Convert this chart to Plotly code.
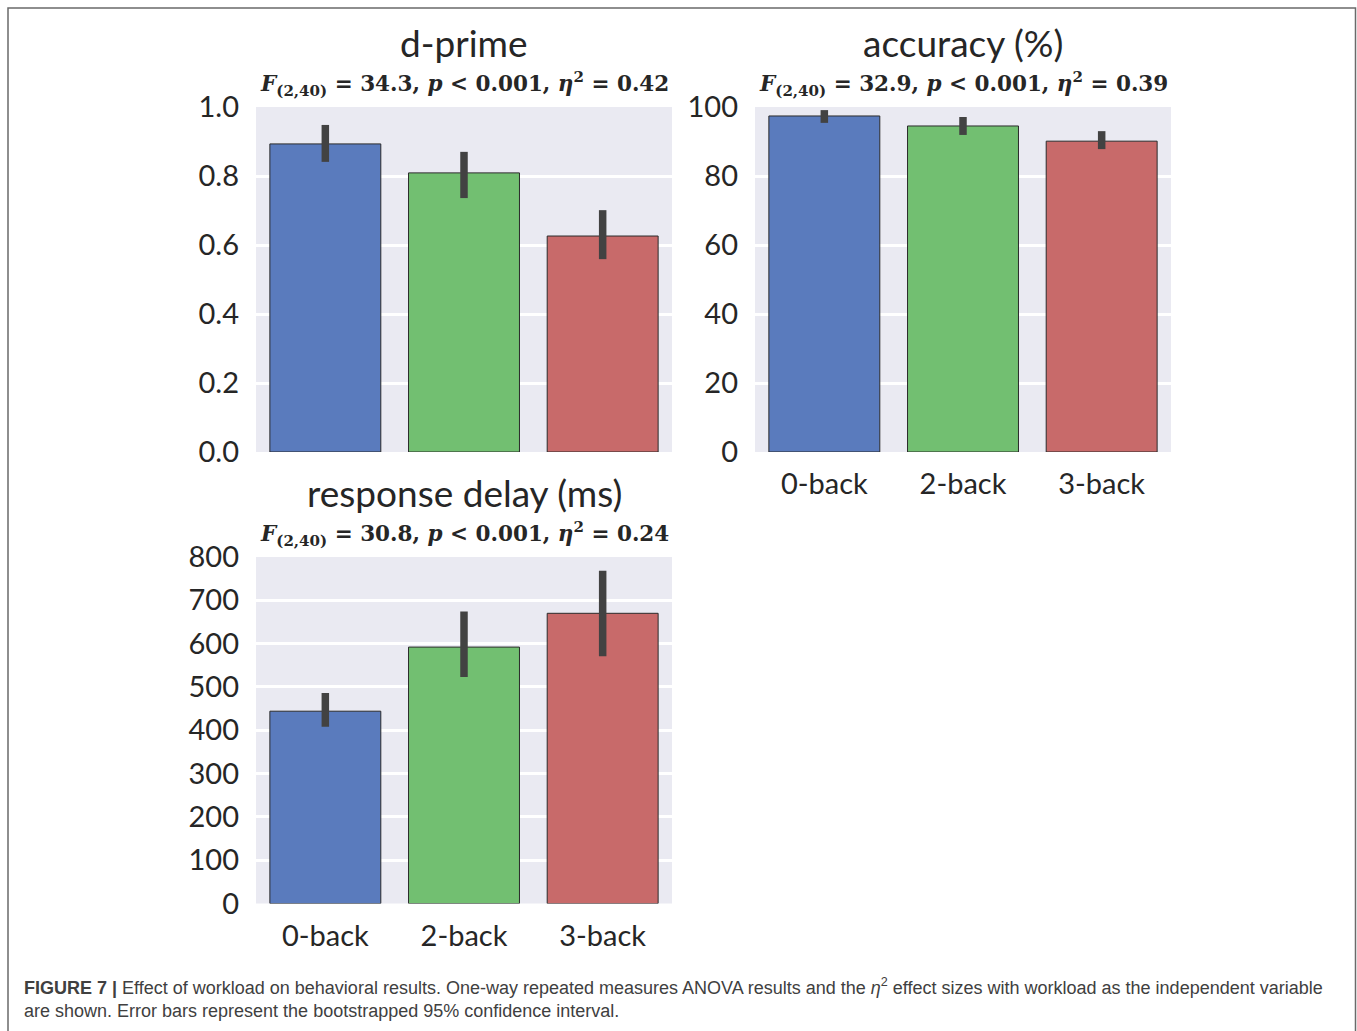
import plotly.graph_objects as go

# Workload conditions
conditions = ["0-back", "2-back", "3-back"]
bar_colors = ["#5a7bbd", "#72bf71", "#c86a6a"]

# d-prime: mean and bootstrapped 95% CI
dprime_mean = [0.893, 0.809, 0.626]
dprime_lo = [0.841, 0.736, 0.559]
dprime_hi = [0.948, 0.870, 0.701]

# accuracy (%): mean and CI
acc_mean = [97.4, 94.5, 90.1]
acc_lo = [95.4, 91.9, 87.8]
acc_hi = [99.1, 97.1, 93.0]

# response delay (ms): mean and CI
rt_mean = [444, 592, 670]
rt_lo = [408, 523, 571]
rt_hi = [486, 674, 768]

panel_titles = ["d-prime", "accuracy (%)", "response delay (ms)"]
anova_stats = [("34.3", "0.42"), ("32.9", "0.39"), ("30.8", "0.24")]

W, H = 1357, 1031


def px_x(v):
    return v / W


def px_y(v):
    return 1 - v / H


fig = go.Figure()

panels = [
    dict(mean=dprime_mean, lo=dprime_lo, hi=dprime_hi, rng=[0, 1.0], dtick=0.2, fmt=".1f",
         xd=[256, 672], yd=[107, 452], xa="x", ya="y", show_x=False),
    dict(mean=acc_mean, lo=acc_lo, hi=acc_hi, rng=[0, 100], dtick=20, fmt="d",
         xd=[755, 1171], yd=[107, 452], xa="x2", ya="y2", show_x=True),
    dict(mean=rt_mean, lo=rt_lo, hi=rt_hi, rng=[0, 800], dtick=100, fmt="d",
         xd=[256, 672], yd=[557, 903.5], xa="x3", ya="y3", show_x=True),
]

tick_font = dict(family="Lato, DejaVu Sans, sans-serif", size=29, color="#262626")

for i, p in enumerate(panels):
    fig.add_trace(go.Bar(
        x=conditions, y=p["mean"],
        marker=dict(color=bar_colors, line=dict(color="#2b2b2b", width=1)),
        width=0.8,
        error_y=dict(type="data", symmetric=False,
                     array=[h - m for h, m in zip(p["hi"], p["mean"])],
                     arrayminus=[m - l for m, l in zip(p["mean"], p["lo"])],
                     color="#424242", thickness=7.5, width=0),
        xaxis=p["xa"], yaxis=p["ya"], showlegend=False, hoverinfo="skip",
    ))
    suffix = "" if i == 0 else str(i + 1)
    fig.layout["xaxis" + suffix] = dict(
        domain=[px_x(p["xd"][0]), px_x(p["xd"][1])],
        anchor=p["ya"], range=[-0.5, 2.5], showgrid=False, zeroline=False,
        showticklabels=p["show_x"], tickfont=tick_font, ticks="", ticklabelstandoff=12,
        showline=False, automargin=False, fixedrange=True,
    )
    fig.layout["yaxis" + suffix] = dict(
        domain=[px_y(p["yd"][1]), px_y(p["yd"][0])],
        anchor=p["xa"], range=p["rng"], dtick=p["dtick"], tickformat=p["fmt"],
        showgrid=True, gridcolor="white", gridwidth=2.5, zeroline=False,
        tickfont=tick_font, ticks="", ticklabelstandoff=16, showline=False,
        automargin=False, fixedrange=True,
    )
    cx = px_x((p["xd"][0] + p["xd"][1]) / 2)
    top = p["yd"][0]
    fig.add_annotation(x=cx, y=px_y(top - 64), xref="paper", yref="paper",
                       xanchor="center", yanchor="middle",
                       text=panel_titles[i], showarrow=False,
                       font=dict(family="Lato, DejaVu Sans, sans-serif", size=37, color="#262626"))
    fval, eta = anova_stats[i]
    fig.add_annotation(
        x=cx, y=px_y(top - 23), xref="paper", yref="paper", showarrow=False,
        xanchor="center", yanchor="middle",
        text=(f"<b><i>F</i><sub>(2,40)</sub> = {fval}, <i>p</i> &lt; 0.001, "
              f"<i>η</i><sup>2</sup> = {eta}</b>"),
        font=dict(family="DejaVu Serif, Liberation Serif, serif", size=21.5, color="#262626"),
    )

# Caption
cap_font = dict(family="Liberation Sans, Arial, sans-serif", size=18, color="#404040")
fig.add_annotation(
    x=px_x(22), y=px_y(986), xref="paper", yref="paper", xanchor="left", yanchor="middle",
    showarrow=False,
    text=("<b>FIGURE 7 |</b> Effect of workload on behavioral results. One-way repeated measures "
          "ANOVA results and the <i>η</i><sup>2</sup> effect sizes with workload as the independent variable"),
    font=cap_font,
)
fig.add_annotation(
    x=px_x(22), y=px_y(1011), xref="paper", yref="paper", xanchor="left", yanchor="middle",
    showarrow=False,
    text="are shown. Error bars represent the bootstrapped 95% confidence interval.",
    font=cap_font,
)

# Figure frame
fig.add_shape(type="rect", xref="paper", yref="paper",
              x0=px_x(8), x1=px_x(1355.5), y0=-0.02, y1=px_y(8),
              line=dict(color="#6a6a6a", width=1.5), fillcolor="rgba(0,0,0,0)", layer="below")

fig.update_layout(
    width=W, height=H, margin=dict(l=0, r=0, t=0, b=0, autoexpand=False),
    paper_bgcolor="white", plot_bgcolor="#eaeaf2", bargap=0.2,
)

fig.write_html("out.html", config={"displayModeBar": False})
